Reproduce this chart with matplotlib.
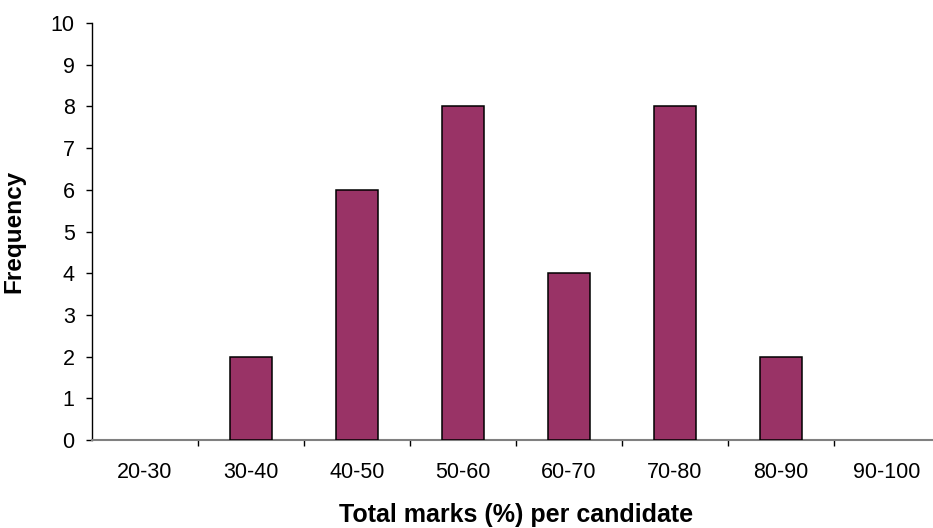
import matplotlib
matplotlib.use("Agg")
import matplotlib.pyplot as plt
import numpy as np

# Frequency distribution of total marks
categories = ["20-30", "30-40", "40-50", "50-60", "60-70", "70-80", "80-90", "90-100"]
frequency = [0, 2, 6, 8, 4, 8, 2, 0]
y_ticks = list(range(0, 11))

plt.rcParams["font.family"] = ["Liberation Sans", "DejaVu Sans"]

fig = plt.figure(figsize=(9.33, 5.28), dpi=100)
ax = fig.add_axes([92 / 933, 88 / 528, 848 / 933, 417 / 528])

x = np.arange(len(categories))
freq = np.array(frequency)
# empty classes get no outline
edge_widths = np.where(freq > 0, 1.1, 0.0)
ax.bar(x, freq, width=0.4, color="#993366", edgecolor="black", linewidth=edge_widths, zorder=3)

ax.set_xlim(-0.5, len(categories) - 0.5)
ax.set_ylim(0, 10)

ax.set_yticks(y_ticks)
ax.tick_params(axis="y", direction="out", length=4.5, width=1, pad=8, labelsize=15.5, color="black")

# category labels centred, tick marks on the category boundaries
ax.set_xticks(x)
ax.set_xticklabels(categories)
ax.tick_params(axis="x", which="major", length=0, pad=16, labelsize=15.5)
ax.set_xticks(np.arange(0.5, len(categories) - 0.5, 1), minor=True)
ax.tick_params(axis="x", which="minor", direction="out", length=4.5, width=1, color="black")

for s in ("top", "right"):
    ax.spines[s].set_visible(False)
ax.spines["left"].set_color("black")
ax.spines["left"].set_linewidth(1)
ax.spines["bottom"].set_color("#808080")
ax.spines["bottom"].set_linewidth(1.5)

ax.set_xlabel("Total marks (%) per candidate", fontsize=18, fontweight="bold", labelpad=14)
ax.set_ylabel("Frequency", fontsize=17.5, fontweight="bold", labelpad=18)

fig.savefig("out.png", dpi=100)
